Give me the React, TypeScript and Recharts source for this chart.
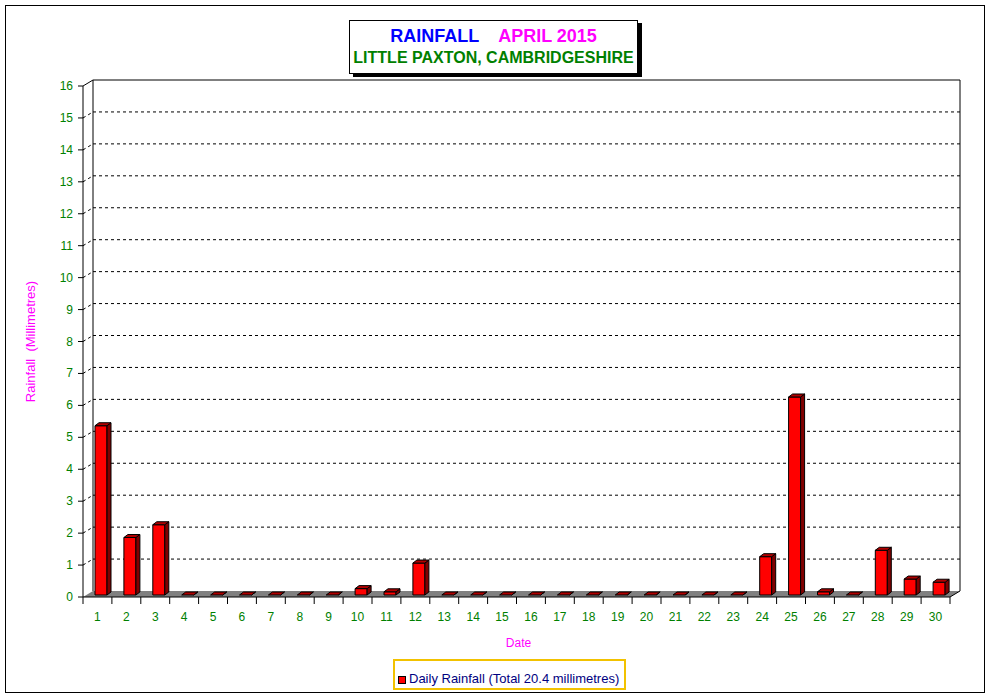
import React from 'react';
import { BarChart, Bar, XAxis, YAxis, CartesianGrid } from 'recharts';

// April 2015, daily rainfall in mm
const days = [
  '1', '2', '3', '4', '5', '6', '7', '8', '9', '10',
  '11', '12', '13', '14', '15', '16', '17', '18', '19', '20',
  '21', '22', '23', '24', '25', '26', '27', '28', '29', '30'
];
const rainfall = [
  5.3, 1.8, 2.2, 0, 0, 0, 0, 0, 0, 0.2,
  0.1, 1.0, 0, 0, 0, 0, 0, 0, 0, 0,
  0, 0, 0, 1.2, 6.2, 0.1, 0, 1.4, 0.5, 0.4
];
const yTicks = [0, 1, 2, 3, 4, 5, 6, 7, 8, 9, 10, 11, 12, 13, 14, 15, 16];

const data = days.map((d, i) => ({ day: d, rain: rainfall[i] }));
const total = rainfall.reduce((a, b) => a + b, 0).toFixed(1);

const W = 991;
const H = 698;
// front plot area
const PL = 83;
const PR = 950;
const PT = 86;
const PB = 597;
// depth of the back wall
const DX = 10;
const DY = -6;
const BW = (PR - PL) / days.length;

const FONT = '"Liberation Sans", Arial, sans-serif';
const GREEN = '#008000';
const MAGENTA = '#FF00FF';

const Bar3D = (props: any) => {
  const { x, y, width, height } = props;
  const h = Math.max(0, height || 0);
  const bx = x + 4;
  const top = y - 2;
  const dx = 4;
  const dy = -3;
  return (
    <g stroke="#000" strokeWidth={1} strokeLinejoin="round">
      <rect x={bx} y={top} width={width} height={h} fill="#FF0000" />
      <polygon
        points={`${bx + width},${top + h} ${bx + width},${top} ${bx + width + dx},${top + dy} ${bx + width + dx},${top + h + dy}`}
        fill="#800000"
      />
      <polygon
        points={`${bx},${top} ${bx + dx},${top + dy} ${bx + width + dx},${top + dy} ${bx + width},${top}`}
        fill="#B00000"
      />
    </g>
  );
};

const YTick = (props: any) => {
  const { y, payload } = props;
  return (
    <g>
      <line x1={PL - 5} y1={y} x2={PL} y2={y} stroke="#000" />
      <text x={PL - 10} y={y} dy={4} textAnchor="end" fill={GREEN} fontSize={12} fontFamily={FONT}>
        {payload.value}
      </text>
    </g>
  );
};

const XTick = (props: any) => {
  const { x, payload, index } = props;
  const left = x - BW / 2;
  const right = x + BW / 2;
  return (
    <g>
      <line x1={left} y1={PB} x2={left} y2={PB + 7} stroke="#000" />
      {index === days.length - 1 && <line x1={right} y1={PB} x2={right} y2={PB + 7} stroke="#000" />}
      <text x={x} y={PB + 24} textAnchor="middle" fill={GREEN} fontSize={12} fontFamily={FONT}>
        {payload.value}
      </text>
    </g>
  );
};

// dashed lines on the back wall, with the little diagonal to the front axis
const GridLine = (props: any) => {
  const { x1, y1, x2 } = props;
  if (Math.abs(y1 - PT) < 1 || Math.abs(y1 - PB) < 1) return <g key={`g-${y1}`} />;
  return (
    <g key={`g-${y1}`} stroke="#000" strokeWidth={1} strokeDasharray="3 3">
      <line x1={x1} y1={y1} x2={x1 + DX} y2={y1 + DY} />
      <line x1={x1 + DX} y1={y1 + DY} x2={x2 + DX} y2={y1 + DY} />
    </g>
  );
};

export default function App() {
  return (
    <div style={{ position: 'absolute', left: 0, top: 0, width: W, height: H, fontFamily: FONT, background: '#fff' }}>
      <svg width={W} height={H} style={{ position: 'absolute', left: 0, top: 0 }}>
        <rect x={5.5} y={5.5} width={979} height={687} fill="none" stroke="#000" />
        {/* floor */}
        <polygon
          points={`${PL},${PB} ${PL + DX},${PB + DY} ${PR + DX},${PB + DY} ${PR},${PB}`}
          fill="#808080"
        />
        <line x1={PR} y1={PB} x2={PR + DX} y2={PB + DY} stroke="#000" />
        {/* back wall */}
        <polyline
          points={`${PL + DX},${PB + DY} ${PL + DX},${PT + DY} ${PR + DX},${PT + DY} ${PR + DX},${PB + DY}`}
          fill="none"
          stroke="#000"
        />
        <line x1={PL} y1={PT} x2={PL + DX} y2={PT + DY} stroke="#000" />
        <text
          transform={`translate(35, ${(PT + PB) / 2}) rotate(-90)`}
          textAnchor="middle"
          fill={MAGENTA}
          fontSize={13}
          fontFamily={FONT}
          style={{ whiteSpace: 'pre' }}
        >
          {'Rainfall  (Millimetres)'}
        </text>
        <text x={(PL + PR) / 2 + 2} y={647} textAnchor="middle" fill={MAGENTA} fontSize={12} fontFamily={FONT}>
          Date
        </text>
      </svg>

      <div style={{ position: 'absolute', left: 0, top: 0 }}>
        <BarChart
          width={W}
          height={H}
          data={data}
          margin={{ top: PT, right: W - PR, bottom: H - PB - 30, left: PL - 60 }}
        >
          <CartesianGrid vertical={false} horizontal={GridLine} />
          <XAxis
            dataKey="day"
            height={30}
            interval={0}
            axisLine={{ stroke: '#000' }}
            tickLine={false}
            tick={<XTick />}
          />
          <YAxis
            width={60}
            type="number"
            domain={[0, 16]}
            ticks={yTicks}
            interval={0}
            axisLine={{ stroke: '#000' }}
            tickLine={false}
            tick={<YTick />}
          />
          <Bar dataKey="rain" barSize={12} fill="#FF0000" shape={<Bar3D />} isAnimationActive={false} />
        </BarChart>
      </div>

      <div
        style={{
          position: 'absolute',
          left: 349,
          top: 20,
          width: 289,
          height: 54,
          boxSizing: 'border-box',
          border: '1px solid #000',
          boxShadow: '4px 3px 0 #000',
          background: '#fff',
          textAlign: 'center',
          fontWeight: 'bold'
        }}
      >
        <div style={{ fontSize: 18, lineHeight: '22px', marginTop: 4, whiteSpace: 'pre' }}>
          <span style={{ color: '#0000FF' }}>RAINFALL</span>
          <span style={{ color: MAGENTA, marginLeft: 19 }}>APRIL 2015</span>
        </div>
        <div style={{ fontSize: 16, lineHeight: '20px', marginTop: 1, color: GREEN }}>
          LITTLE PAXTON, CAMBRIDGESHIRE
        </div>
      </div>

      <div
        style={{
          position: 'absolute',
          left: 393,
          top: 659,
          width: 233,
          height: 31,
          boxSizing: 'border-box',
          border: '2px solid #F2C200'
        }}
      >
        <div
          style={{
            position: 'absolute',
            left: 3,
            top: 15,
            width: 8,
            height: 8,
            boxSizing: 'border-box',
            border: '1px solid #000',
            background: '#FF0000'
          }}
        />
        <div style={{ position: 'absolute', left: 14, top: 10, fontSize: 13, lineHeight: '15px', color: '#000080', whiteSpace: 'nowrap' }}>
          {`Daily Rainfall (Total ${total} millimetres)`}
        </div>
      </div>
    </div>
  );
}
